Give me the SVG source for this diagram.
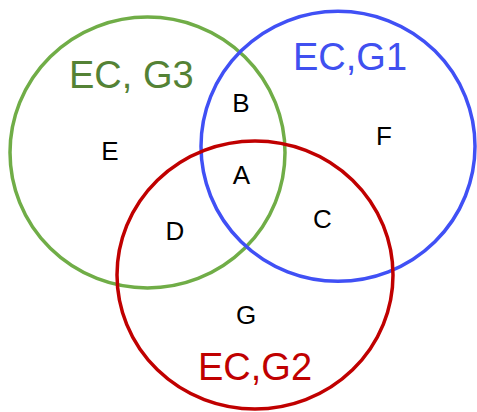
<svg xmlns="http://www.w3.org/2000/svg" width="477" height="412" viewBox="0 0 477 412">
  <style>
    .set { fill: none; stroke-width: 3.5; }
    .title { font-family: "Liberation Sans", Arial, sans-serif; font-size: 38px; }
    .region { font-family: "Liberation Sans", Arial, sans-serif; font-size: 26px; fill: #000000; text-anchor: middle; }
  </style>
  <rect width="477" height="412" fill="#ffffff"/>

  <!-- set circles -->
  <g id="set-g3">
    <ellipse class="set" cx="147.5" cy="152.5" rx="137.5" ry="135.5" stroke="#70ad47"/>
    <text class="title" x="69" y="88" fill="#548235">EC, G3</text>
  </g>
  <g id="set-g1">
    <ellipse class="set" cx="338" cy="146.3" rx="137" ry="135" stroke="#4050f5"/>
    <text class="title" x="293" y="70" fill="#4050f0">EC,G1</text>
  </g>
  <g id="set-g2">
    <ellipse class="set" cx="255" cy="275" rx="138" ry="134" stroke="#c00000"/>
    <text class="title" x="198" y="380" fill="#c00000">EC,G2</text>
  </g>

  <!-- region labels -->
  <g id="region-a"><text class="region" x="241.5" y="184">A</text></g>
  <g id="region-b"><text class="region" x="241" y="112">B</text></g>
  <g id="region-c"><text class="region" x="322.5" y="228">C</text></g>
  <g id="region-d"><text class="region" x="175" y="240">D</text></g>
  <g id="region-e"><text class="region" x="110" y="160">E</text></g>
  <g id="region-f"><text class="region" x="384" y="145">F</text></g>
  <g id="region-g"><text class="region" x="246" y="324">G</text></g>

  <g id="connectors"/>
</svg>
